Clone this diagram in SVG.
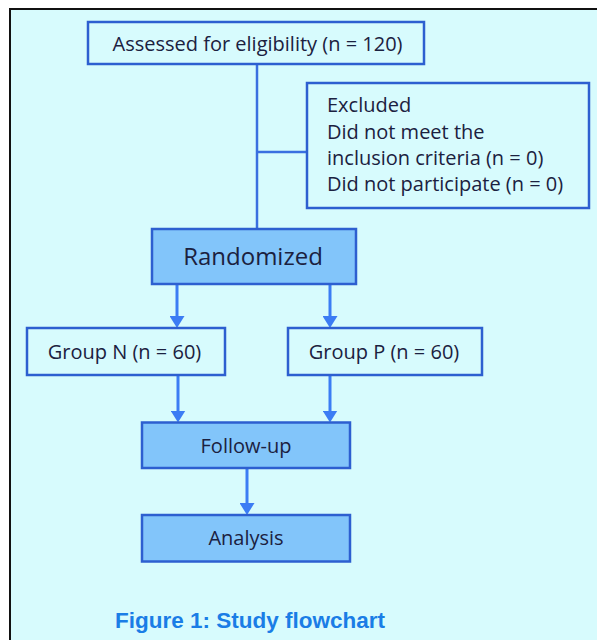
<svg xmlns="http://www.w3.org/2000/svg" width="597" height="640" viewBox="0 0 597 640">
  <defs>
    <style>
      .box { fill: #d7fbfd; stroke: #2d5fd0; stroke-width: 2.5; }
      .fbox { fill: #82c5fa; stroke: #2d5fd0; stroke-width: 2.5; }
      .t { font-family: "Open Sans", "Noto Sans", sans-serif; font-size: 20px; fill: #1b2140; }
      .tc { text-anchor: middle; }
      .conn { stroke: #3b7cf4; stroke-width: 3; fill: none; }
      .plain { stroke: #3a6fe0; stroke-width: 2.5; fill: none; }
      .cap { font-family: "Liberation Sans", Arial, sans-serif; font-weight: bold; font-size: 22.5px; fill: #1a7de6; }
    </style>
    <marker id="arr" viewBox="0 0 12 15" markerWidth="12" markerHeight="15" refX="2" refY="7.5" orient="auto" markerUnits="userSpaceOnUse">
      <path d="M0,0 L12,7.5 L0,15 z" fill="#3b7cf4"/>
    </marker>
  </defs>

  <rect x="0" y="0" width="597" height="640" fill="#ffffff"/>
  <rect x="10" y="9" width="600" height="650" fill="#d7fbfd" stroke="#111111" stroke-width="2"/>

  <g id="connectors">
    <line class="plain" x1="257" y1="64" x2="257" y2="229"/>
    <line class="plain" x1="257" y1="152" x2="307" y2="152"/>
    <line class="conn" x1="177" y1="284" x2="177" y2="318" marker-end="url(#arr)"/>
    <line class="conn" x1="330" y1="284" x2="330" y2="318" marker-end="url(#arr)"/>
    <line class="conn" x1="178" y1="375" x2="178" y2="412.5" marker-end="url(#arr)"/>
    <line class="conn" x1="330" y1="375" x2="330" y2="412.5" marker-end="url(#arr)"/>
    <line class="conn" x1="247" y1="468" x2="247" y2="505" marker-end="url(#arr)"/>
  </g>

  <g id="assessed">
    <rect class="box" x="88" y="22" width="336" height="42"/>
    <text class="t tc" x="257.5" y="50.5">Assessed for eligibility (n = 120)</text>
  </g>

  <g id="excluded">
    <rect class="box" x="307" y="83" width="282" height="125"/>
    <text class="t" x="327" y="112">Excluded</text>
    <text class="t" x="327" y="138.5">Did not meet the</text>
    <text class="t" x="327" y="165">inclusion criteria (n = 0)</text>
    <text class="t" x="327" y="191">Did not participate (n = 0)</text>
  </g>

  <g id="randomized">
    <rect class="fbox" x="152" y="229" width="204" height="55"/>
    <text class="t tc" x="253" y="264.5" style="font-size:24px">Randomized</text>
  </g>

  <g id="groupN">
    <rect class="box" x="27" y="328" width="198" height="47"/>
    <text class="t tc" x="124.5" y="359">Group N (n = 60)</text>
  </g>

  <g id="groupP">
    <rect class="box" x="288" y="328" width="194" height="47"/>
    <text class="t tc" x="384" y="359">Group P (n = 60)</text>
  </g>

  <g id="followup">
    <rect class="fbox" x="142" y="422.5" width="208" height="45.5"/>
    <text class="t tc" x="246" y="452.5">Follow-up</text>
  </g>

  <g id="analysis">
    <rect class="fbox" x="142" y="515" width="208" height="46.5"/>
    <text class="t tc" x="246" y="545">Analysis</text>
  </g>

  <text class="cap" x="115" y="628">Figure 1: Study flowchart</text>
</svg>
